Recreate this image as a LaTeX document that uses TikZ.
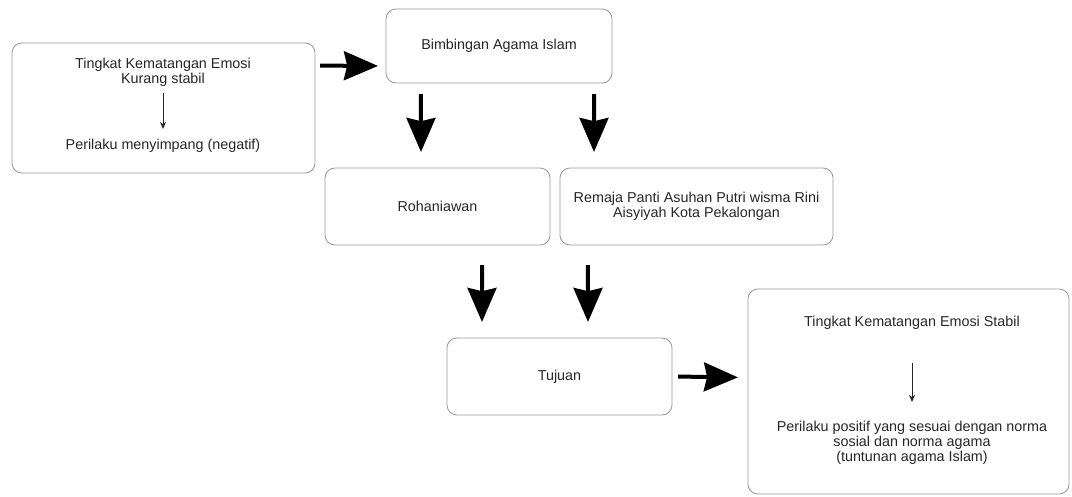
\documentclass[tikz,border=0pt]{standalone}
\usepackage{fontspec}
\setmainfont{Liberation Sans}
\usepackage{tikz}
\usetikzlibrary{arrows.meta}

\begin{document}
\begin{tikzpicture}[x=0.025cm,y=-0.025cm,
  box/.style={draw=black!40,line width=0.6pt,rounded corners=0.25cm,inner sep=0pt,outer sep=0pt,align=center,text=black!85,font=\fontsize{10.2pt}{10.7pt}\selectfont},
  txt/.style={inner sep=0pt,align=center,text=black!85,font=\fontsize{10.2pt}{10.7pt}\selectfont},
  big/.style={-{Stealth[length=0.85cm,width=0.72cm,inset=0.08cm]},line width=0.1cm,black},
  small/.style={-{Stealth[length=1.8mm,width=1.5mm]},line width=0.7pt,black!85}]

    \useasboundingbox (0,0) rectangle (1072,497);

    % The boxes
	\node [box,minimum width=7.575cm,minimum height=3.25cm] at (163.5,108) (emosi) {};
	\node [txt] at (163,72.5) (emosiA) {Tingkat Kematangan Emosi\\Kurang stabil};
	\node [txt] at (163,146) (emosiB) {Perilaku menyimpang (negatif)};

	\node [box,minimum width=5.65cm,minimum height=1.85cm] at (499,46) (bimb) {Bimbingan Agama Islam};

	\node [box,minimum width=5.625cm,minimum height=1.925cm] at (437.5,206.5) (roh) {Rohaniawan};
	\node [box,minimum width=6.825cm,minimum height=1.925cm] at (696.5,206.5) (remaja) {Remaja Panti Asuhan Putri wisma Rini\\Aisyiyah Kota Pekalongan};

	\node [box,minimum width=5.625cm,minimum height=1.925cm] at (559.5,376.5) (tujuan) {Tujuan};

	\node [box,minimum width=8.025cm,minimum height=5.125cm] at (908.5,391.5) (stabil) {};
	\node [txt] at (912,323) (stabilA) {Tingkat Kematangan Emosi Stabil};
	\node [txt] at (912,443) (stabilB) {Perilaku positif yang sesuai dengan norma\\sosial dan norma agama\\(tuntunan agama Islam)};

	% Arrows inside the boxes
	\path[small]
	(emosiA) edge[shorten <=0.15cm,shorten >=0.25cm] (emosiB)
	(stabilA) edge[shorten <=0.825cm,shorten >=0.475cm] (stabilB);

	% Big arrows
	\path[big]
	([yshift=1.06cm]emosi.east) edge[shorten <=0.125cm,shorten >=0.2cm] ([yshift=-0.5cm]bimb.west)
	([xshift=0.875cm]bimb.south west) edge[shorten <=0.275cm,shorten >=0.4cm] ([xshift=2.4cm]roh.north west)
	([xshift=-0.45cm]bimb.south east) edge[shorten <=0.275cm,shorten >=0.4cm] ([xshift=0.85cm]remaja.north west)
	([xshift=3.925cm]roh.south west) edge[shorten <=0.5cm,shorten >=0.4cm] ([xshift=0.875cm]tujuan.north west)
	([xshift=0.7cm]remaja.south west) edge[shorten <=0.5cm,shorten >=0.4cm] ([xshift=3.525cm]tujuan.north west)
	(tujuan.east) edge[shorten <=0.15cm,shorten >=0.25cm] ([yshift=0.35cm]stabil.west);

\end{tikzpicture}
\end{document}
